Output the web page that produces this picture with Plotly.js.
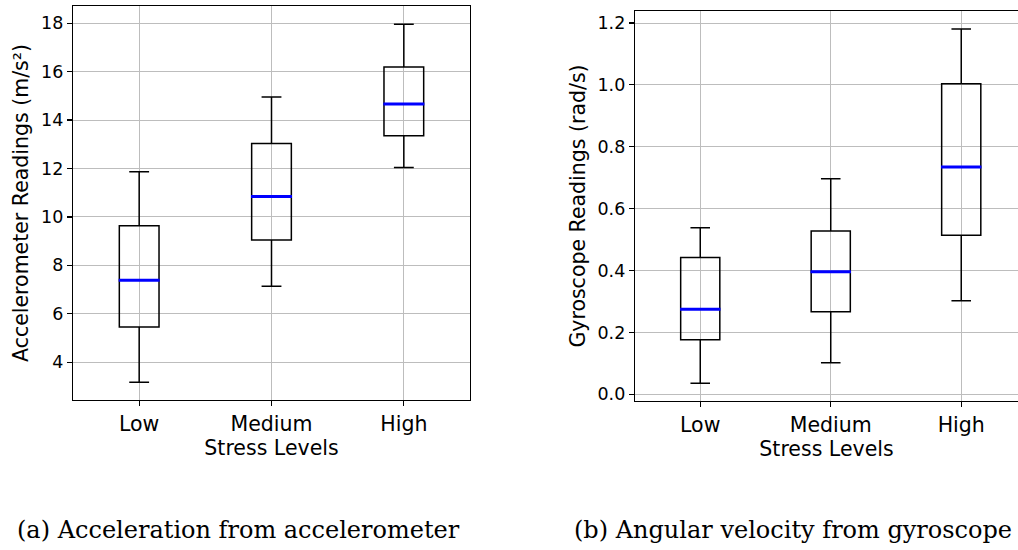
<!DOCTYPE html>
<html>
<head>
<meta charset="utf-8">
<script src="https://cdn.plot.ly/plotly-3.0.1.min.js"></script>
<style>html,body{margin:0;padding:0;background:#fff;} #chart{width:1018px;height:550px;}</style>
</head>
<body>
<div id="chart"></div>
<script>
// Categories
const categories = ['Low', 'Medium', 'High'];
const positions = [1, 2, 3];

// Accelerometer readings (m/s²)
const accLower  = [3.17, 7.14, 12.04];
const accQ1     = [5.45, 9.05, 13.35];
const accMedian = [7.39, 10.84, 14.66];
const accQ3     = [9.64, 13.03, 16.19];
const accUpper  = [11.87, 14.95, 17.96];

// Gyroscope readings (rad/s)
const gyrLower  = [0.036, 0.102, 0.302];
const gyrQ1     = [0.176, 0.267, 0.514];
const gyrMedian = [0.275, 0.396, 0.735];
const gyrQ3     = [0.442, 0.528, 1.004];
const gyrUpper  = [0.538, 0.697, 1.181];

// Captions
const captionA = '(a) Acceleration from accelerometer';
const captionB = '(b) Angular velocity from gyroscope';

const BOXW = 0.3;
const W = 1018, H = 550;

function boxTrace(lo, q1, med, q3, hi, xa, ya) {
  return {
    type: 'box', x: positions, lowerfence: lo, q1: q1, median: med, q3: q3, upperfence: hi,
    xaxis: xa, yaxis: ya, width: BOXW, whiskerwidth: 0.5, boxpoints: false,
    fillcolor: 'rgba(0,0,0,0)', line: {color: '#000000', width: 1.5},
    hoverinfo: 'skip', showlegend: false
  };
}
function medianTrace(med, xa, ya) {
  const xs = [], ys = [];
  for (let i = 0; i < positions.length; i++) {
    xs.push(positions[i] - BOXW / 2 - 0.005, positions[i] + BOXW / 2 + 0.005, null);
    ys.push(med[i], med[i], null);
  }
  return {type: 'scatter', mode: 'lines', x: xs, y: ys, xaxis: xa, yaxis: ya,
    line: {color: '#0000ff', width: 3}, hoverinfo: 'skip', showlegend: false};
}

const data = [
  boxTrace(accLower, accQ1, accMedian, accQ3, accUpper, 'x', 'y'),
  medianTrace(accMedian, 'x', 'y'),
  boxTrace(gyrLower, gyrQ1, gyrMedian, gyrQ3, gyrUpper, 'x2', 'y2'),
  medianTrace(gyrMedian, 'x2', 'y2')
];

const fontFam = 'DejaVu Sans, sans-serif';
const xCommon = {
  tickmode: 'array', tickvals: positions, ticktext: categories,
  showgrid: true, gridcolor: '#bdbdbd', gridwidth: 1, zeroline: false,
  showline: true, linecolor: '#000000', linewidth: 1.2,
  ticks: 'outside', ticklen: 5, tickcolor: '#000000', tickwidth: 1.2,
  tickfont: {family: fontFam, size: 20.5, color: '#000000'},
  title: {text: 'Stress Levels', font: {family: fontFam, size: 20.5, color: '#000000'}, standoff: 4},
  automargin: false, fixedrange: true
};
const yCommon = {
  showgrid: true, gridcolor: '#bdbdbd', gridwidth: 1, zeroline: false,
  showline: true, linecolor: '#000000', linewidth: 1.2,
  ticks: 'outside', ticklen: 5, tickcolor: '#000000', tickwidth: 1.2,
  tickfont: {family: fontFam, size: 17.5, color: '#000000'},
  automargin: false, fixedrange: true
};

const layout = {
  width: W, height: H,
  margin: {l: 0, r: 0, t: 0, b: 0},
  paper_bgcolor: '#ffffff', plot_bgcolor: '#ffffff',
  showlegend: false,
  xaxis: Object.assign({}, xCommon, {domain: [73 / W, 470 / W], range: [0.5, 3.5], mirror: true, anchor: 'y'}),
  yaxis: Object.assign({}, yCommon, {domain: [1 - 400 / H, 1 - 6 / H], range: [2.44, 18.71], dtick: 2, tick0: 0, mirror: true, anchor: 'x',
    title: {text: 'Accelerometer Readings (m/s²)', font: {family: fontFam, size: 20.5, color: '#000000'}, standoff: 6}}),
  xaxis2: Object.assign({}, xCommon, {domain: [635 / W, 1], range: [0.5, 3.435], mirror: true, anchor: 'y2'}),
  yaxis2: Object.assign({}, yCommon, {domain: [1 - 401 / H, 1 - 11 / H], range: [-0.0217, 1.2388], dtick: 0.2, tick0: 0, tickformat: '.1f', mirror: false, anchor: 'x2',
    title: {text: 'Gyroscope Readings (rad/s)', font: {family: fontFam, size: 20.5, color: '#000000'}, standoff: 6}}),
  annotations: [
    {text: captionA, xref: 'paper', yref: 'paper', x: 15 / W, y: 1 - 530 / H, xanchor: 'left', yanchor: 'middle',
     showarrow: false, font: {family: 'DejaVu Serif, serif', size: 24, color: '#000000'}},
    {text: captionB, xref: 'paper', yref: 'paper', x: 572 / W, y: 1 - 530 / H, xanchor: 'left', yanchor: 'middle',
     showarrow: false, font: {family: 'DejaVu Serif, serif', size: 24, color: '#000000'}}
  ]
};

Plotly.newPlot('chart', data, layout, {staticPlot: true, displayModeBar: false});
</script>
</body>
</html>
